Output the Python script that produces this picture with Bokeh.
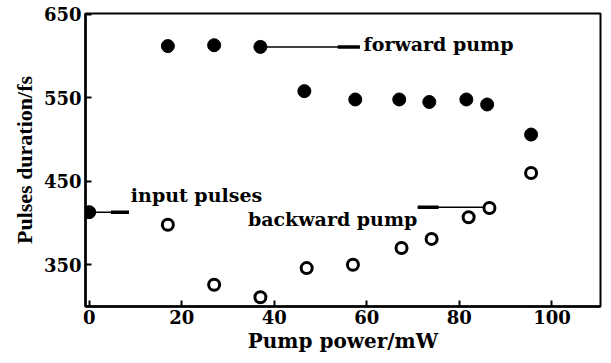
from bokeh.plotting import figure
from bokeh.models import Range1d, FixedTicker, Label, ColumnDataSource
from bokeh.embed import file_html
from bokeh.resources import INLINE

# forward pump (filled)
fwd_power = [17, 27, 37, 46.5, 57.5, 67, 73.5, 81.5, 86, 95.5]
fwd_dur = [612, 613, 611, 558, 548, 548, 545, 548, 542, 506]
# backward pump (open)
bwd_power = [17, 27, 37, 47, 57, 67.5, 74, 82, 86.5, 95.5]
bwd_dur = [398, 326, 311, 346, 350, 370, 381, 407, 418, 460]
# input pulse
inp_power = [0]
inp_dur = [413]

x_ticks = [0, 20, 40, 60, 80, 100]
y_ticks = [350, 450, 550, 650]

# annotation pointer lines
ann_thin_x0 = [37, 0, 71]
ann_thin_x1 = [58.5, 8.6, 86.5]
ann_thick_x0 = [53.7, 4.7, 71]
ann_thick_x1 = [58.5, 8.6, 75.5]
ann_y = [611, 413, 419]

labels = ["forward pump", "input pulses", "backward pump"]
label_x = [59.3, 9, 34.3]
label_y = [614, 434, 405]

FONT = "DejaVu Serif"

p = figure(width=603, height=355, output_backend="svg", toolbar_location=None,
           x_range=Range1d(-0.8, 110.5), y_range=Range1d(300, 651),
           min_border_left=85, min_border_right=3, min_border_top=13, min_border_bottom=49)
p.grid.visible = False
p.outline_line_color = "black"
p.outline_line_width = 2
p.background_fill_color = "white"
p.border_fill_color = "white"

for ax in (p.xaxis[0], p.yaxis[0]):
    ax.axis_line_width = 2.5
    ax.axis_line_color = "black"
    ax.major_tick_in = 6
    ax.major_tick_out = 0
    ax.major_tick_line_width = 2
    ax.minor_tick_line_color = None
    ax.major_label_text_font = FONT
    ax.major_label_text_font_style = "bold"
    ax.major_label_text_font_size = "18px"
    ax.major_label_text_color = "black"
    ax.axis_label_text_font = FONT
    ax.axis_label_text_font_style = "bold"
    ax.axis_label_text_color = "black"

p.xaxis.ticker = FixedTicker(ticks=x_ticks)
p.yaxis.ticker = FixedTicker(ticks=y_ticks)
p.xaxis.axis_label = "Pump power/mW"
p.xaxis.axis_label_text_font_size = "20px"
p.xaxis.axis_label_standoff = 2
p.xaxis.major_label_standoff = 3
p.yaxis.axis_label = "Pulses duration/fs"
p.yaxis.axis_label_text_font = "Liberation Serif"
p.yaxis.axis_label_text_font_size = "22px"
p.yaxis.axis_label_standoff = 4
p.yaxis.major_label_standoff = 4

thin = ColumnDataSource(dict(x0=ann_thin_x0, x1=ann_thin_x1, y=ann_y))
thick = ColumnDataSource(dict(x0=ann_thick_x0, x1=ann_thick_x1, y=ann_y))
p.segment("x0", "y", "x1", "y", source=thin, line_color="black", line_width=1.5)
p.segment("x0", "y", "x1", "y", source=thick, line_color="black", line_width=3.5)

p.scatter(fwd_power, fwd_dur, size=13, color="black")
p.scatter(bwd_power, bwd_dur, size=11, fill_color="white", line_color="black", line_width=3)
p.scatter(inp_power, inp_dur, size=13, color="black")

for t, x, y in zip(labels, label_x, label_y):
    p.add_layout(Label(x=x, y=y, text=t, text_font=FONT, text_font_style="bold",
                       text_font_size="19px", text_baseline="middle", text_color="black"))

open("out.html", "w").write(file_html(p, INLINE))
